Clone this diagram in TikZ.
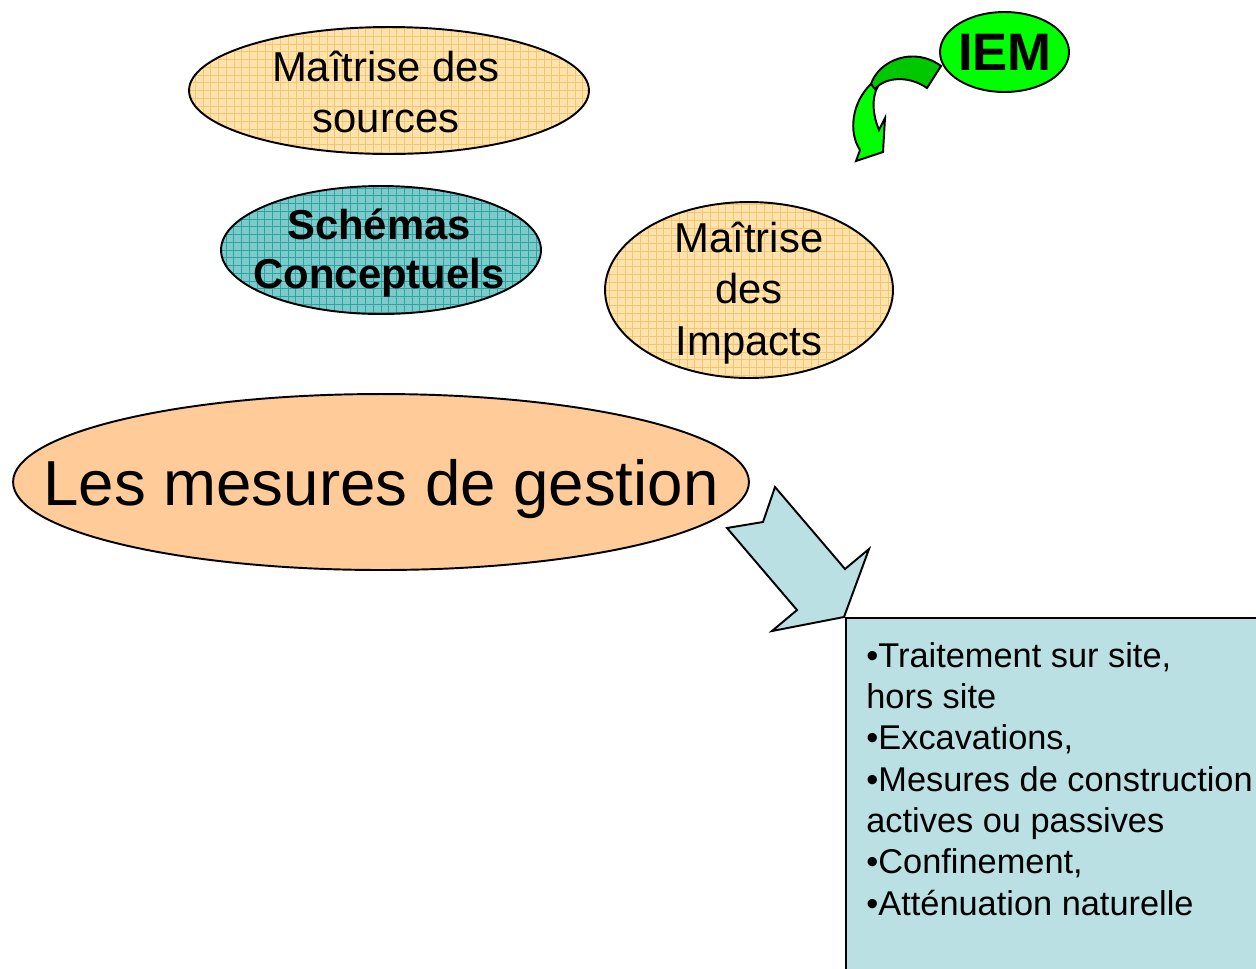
\documentclass[tikz,border=0pt]{standalone}
\usepackage{fontspec}
\setmainfont{Liberation Sans}
\usetikzlibrary{shapes.geometric}
\definecolor{peach}{HTML}{FFCC99}
\definecolor{lightor}{HTML}{FFE2AC}
\definecolor{gridor}{HTML}{F5C672}
\definecolor{teal1}{HTML}{7CCACA}
\definecolor{gridteal}{HTML}{2EA3A3}
\definecolor{green1}{HTML}{00FF00}
\definecolor{green2}{HTML}{00C800}
\definecolor{lblue}{HTML}{BAE0E3}
\begin{document}
\begin{tikzpicture}[x=0.02cm,y=-0.02cm,
  ell/.style={ellipse, draw=black, line width=1.1pt, inner sep=0pt},
  gridfill/.style={path picture={\draw[#1, line width=0.45pt]
      ([xshift=-0.05cm,yshift=-0.05cm]path picture bounding box.south west) grid[step=0.155cm]
      (path picture bounding box.north east);}},
  txt/.style={align=center, inner sep=0pt, font=\fontsize{23.8pt}{28.6pt}\selectfont},
  shapeline/.style={draw=black, line width=1.1pt, line join=miter},
]
\useasboundingbox (0,0) rectangle (1256,968);

% Maitrise des sources
\node[ell, fill=lightor, gridfill=gridor, minimum width=8cm, minimum height=2.54cm] (src) at (389,90.5) {};
\node[txt] (srct) at (386,92) {Maîtrise des\\sources};

% Schemas conceptuels
\node[ell, fill=teal1, gridfill=gridteal, minimum width=6.4cm, minimum height=2.56cm] (sch) at (381,250) {};
\node[txt, font=\bfseries\fontsize{23.8pt}{27.5pt}\selectfont] (scht) at (379,253) {Schémas\\Conceptuels};

% Maitrise des impacts
\node[ell, fill=lightor, gridfill=gridor, minimum width=5.76cm, minimum height=3.52cm] (imp) at (749,290) {};
\node[txt, font=\fontsize{23.8pt}{29.2pt}\selectfont] (impt) at (749,293) {Maîtrise\\des\\Impacts};

% Les mesures de gestion
\node[ell, fill=peach, minimum width=14.72cm, minimum height=3.52cm] (ges) at (381,482) {};
\node[inner sep=0pt, font=\fontsize{36.2pt}{43pt}\selectfont, anchor=base] (gest) at (381,505) {Les mesures de gestion};

% curved green arrow
\path[shapeline, fill=green1]
  (871,84) .. controls (852,102) and (848,132) .. (860,150)
  -- (856,161) -- (883,152) -- (885,118) -- (879,130)
  .. controls (873,116) and (871,98) .. (878,86) -- cycle;
\path[shapeline, fill=green2]
  (871,84) .. controls (879,60) and (914,46) .. (941,66)
  -- (927,88) .. controls (910,76) and (886,76) .. (875,89) -- cycle;

% IEM
\node[ell, fill=green1, minimum width=2.58cm, minimum height=1.6cm] (iem) at (1004.5,52) {};
\node[inner sep=0pt, font=\bfseries\fontsize{30pt}{36pt}\selectfont] (iemt) at (1005,52) {IEM};

% box
\node[anchor=north west, draw=black, line width=1.1pt, fill=lblue, minimum width=8.4cm, minimum height=7.2cm, inner sep=0pt] (box) at (845,617) {};
\node[anchor=north west, align=left, inner sep=0pt, font=\fontsize{19.56pt}{23.5pt}\selectfont] (boxt) at (866,642)
  {•Traitement sur site,\\hors site\\•Excavations,\\•Mesures de construction\\actives ou passives\\•Confinement,\\•Atténuation naturelle};

% big block arrow
\path[shapeline, fill=lblue]
  (775,487) -- (763,522) -- (727,528) -- (797,610) -- (772,631)
  -- (844,617) -- (869,549) -- (845,569) -- cycle;
\end{tikzpicture}
\end{document}
